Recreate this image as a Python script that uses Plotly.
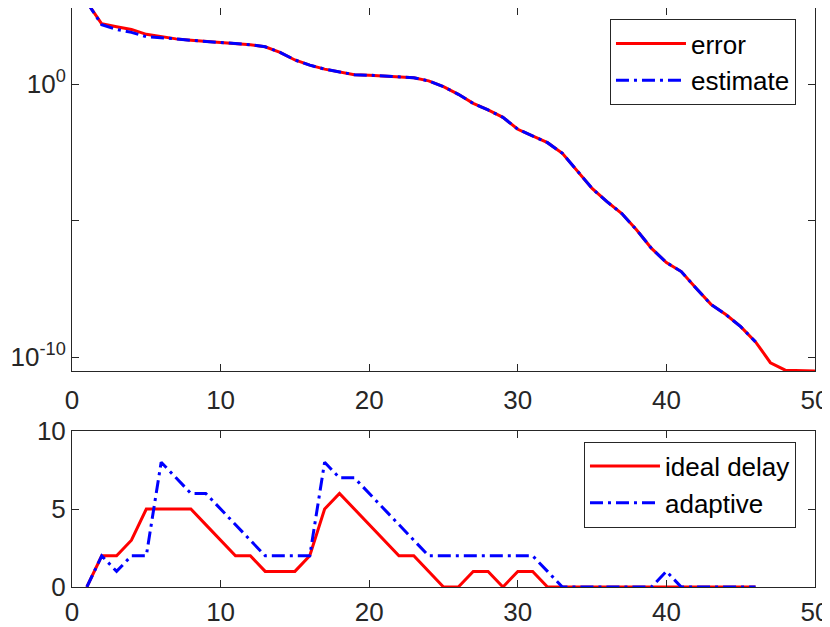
import plotly.graph_objects as go
from plotly.subplots import make_subplots

# iteration index
steps = list(range(1, 51))
steps_est = list(range(1, 47))

# top panel: error and its estimate (log scale)
error = [1.0e3, 1.6e2, 1.26e2, 1.0e2, 6.6e1, 5.4e1, 4.5e1, 4.0e1, 3.6e1, 3.4e1,
         3.1e1, 2.75e1, 2.3e1, 1.45e1, 7.6, 4.9, 3.5, 2.7, 2.2, 2.1,
         1.95, 1.9, 1.7, 1.3, 0.8, 0.42, 0.195, 0.112, 6.0e-2, 2.2e-2,
         1.26e-2, 7.1e-3, 2.9e-3, 6.8e-4, 1.5e-4, 4.9e-5, 1.8e-5, 4.5e-6, 9.5e-7, 2.9e-7,
         1.35e-7, 3.3e-8, 8.5e-9, 3.6e-9, 1.3e-9, 3.6e-10, 6.2e-11, 3.3e-11, 3.1e-11, 3.1e-11]
estimate = [1.0e3, 1.48e2, 1.0e2, 7.8e1, 5.4e1, 5.0e1, 4.5e1, 4.0e1, 3.6e1, 3.4e1,
            3.1e1, 2.75e1, 2.3e1, 1.45e1, 7.6, 4.9, 3.5, 2.7, 2.2, 2.1,
            1.95, 1.9, 1.7, 1.3, 0.8, 0.42, 0.195, 0.112, 6.0e-2, 2.2e-2,
            1.26e-2, 7.1e-3, 2.9e-3, 6.8e-4, 1.5e-4, 4.9e-5, 1.8e-5, 4.5e-6, 9.5e-7, 2.9e-7,
            1.35e-7, 3.3e-8, 8.5e-9, 3.6e-9, 1.3e-9, 3.6e-10]

# bottom panel: delay
ideal_delay = [0, 2, 2, 3, 5, 5, 5, 5, 4, 3, 2, 2, 1, 1, 1, 2, 5, 6, 5, 4,
               3, 2, 2, 1, 0, 0, 1, 1, 0, 1, 1, 0, 0, 0, 0, 0, 0, 0, 0, 0,
               0, 0, 0, 0, 0, 0]
adaptive = [0, 2, 1, 2, 2, 8, 7, 6, 6, 5, 4, 3, 2, 2, 2, 2, 8, 7, 7, 6,
            5, 4, 3, 2, 2, 2, 2, 2, 2, 2, 2, 1, 0, 0, 0, 0, 0, 0, 0, 1,
            0, 0, 0, 0, 0, 0]

x_ticks = [0, 10, 20, 30, 40, 50]
top_tickvals = [1e-10, 1e-5, 1e0]
top_ticktext = ["10<sup>-10</sup>", "", "10<sup>0</sup>"]

FONT = "Liberation Sans, Arial, sans-serif"
AXIS_COLOR = "#262626"
DASHDOT = "13px,5px,3px,5px"

fig = make_subplots(rows=2, cols=1, vertical_spacing=0.0, row_heights=[0.7, 0.3])

fig.add_trace(go.Scatter(x=steps, y=error, mode="lines", name="error",
                         line=dict(color="red", width=3), legend="legend"), row=1, col=1)
fig.add_trace(go.Scatter(x=steps_est, y=estimate, mode="lines", name="estimate",
                         line=dict(color="blue", width=3, dash=DASHDOT), legend="legend"), row=1, col=1)
fig.add_trace(go.Scatter(x=steps_est, y=ideal_delay, mode="lines", name="ideal delay",
                         line=dict(color="red", width=3), legend="legend2"), row=2, col=1)
fig.add_trace(go.Scatter(x=steps_est, y=adaptive, mode="lines", name="adaptive",
                         line=dict(color="blue", width=3, dash=DASHDOT), legend="legend2"), row=2, col=1)

axis_style = dict(showline=True, linecolor=AXIS_COLOR, linewidth=1, mirror="ticks",
                  ticks="inside", ticklen=7, tickcolor=AXIS_COLOR, showgrid=False,
                  zeroline=False, automargin=False,
                  tickfont=dict(family=FONT, size=26, color=AXIS_COLOR))

fig.update_xaxes(**axis_style, range=[0, 50], tickvals=x_ticks)
fig.update_xaxes(ticklabelstandoff=6, row=1, col=1)
fig.update_xaxes(ticklabelstandoff=2, row=2, col=1)
fig.update_yaxes(**axis_style)
fig.update_yaxes(type="log", range=[-10.51, 2.784], tickvals=top_tickvals, ticktext=top_ticktext,
                 domain=[0.3731, 1.0], row=1, col=1)
fig.update_yaxes(range=[0, 10], tickvals=[0, 5, 10], domain=[0, 0.2694], row=2, col=1)

legend_style = dict(bgcolor="white", bordercolor=AXIS_COLOR, borderwidth=1,
                    font=dict(family=FONT, size=26, color="black"),
                    xanchor="right", yanchor="top", itemwidth=70, tracegroupgap=0)

# the page body adds 8px around the figure, so the figure is 8px smaller
fig.update_layout(
    width=822,
    height=619,
    margin=dict(l=64, r=15, t=0, b=40),
    plot_bgcolor="white",
    paper_bgcolor="white",
    showlegend=True,
    legend=dict(**legend_style, x=0.9744, y=0.981),
    legend2=dict(**legend_style, x=0.9744, y=0.251),
)

fig.write_html("out.html")
